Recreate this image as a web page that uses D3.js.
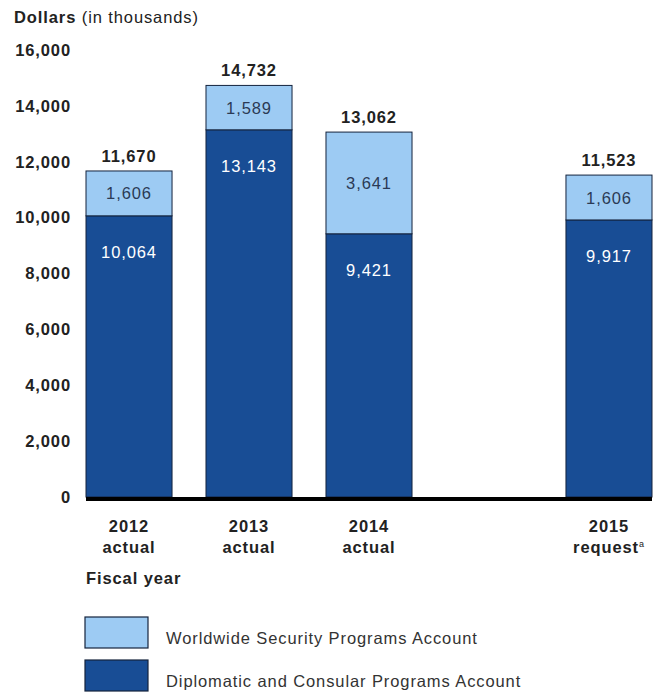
<!DOCTYPE html>
<html>
<head>
<meta charset="utf-8">
<script src="https://cdn.jsdelivr.net/npm/d3@7"></script>
<style>
  body { margin: 0; background: #fff; }
  svg { display: block; font-family: "Liberation Sans", Arial, sans-serif; }
  svg text { font-size: 16.5px; letter-spacing: 0.9px; }
</style>
</head>
<body>
<div id="app"></div>
<script>
// fiscal years, one empty slot between 2014 and 2015
const years = ['2012', '2013', '2014', 'gap', '2015']
const yearLine1 = ['2012', '2013', '2014', '', '2015']
const yearLine2 = ['actual', 'actual', 'actual', '', 'request']
const diplomatic = [10064, 13143, 9421, null, 9917]
const worldwide = [1606, 1589, 3641, null, 1606]
const totals = [11670, 14732, 13062, null, 11523]
const yTicks = [0, 2000, 4000, 6000, 8000, 10000, 12000, 14000, 16000]
const seriesNames = ['Worldwide Security Programs Account', 'Diplomatic and Consular Programs Account']

const width = 658, height = 693
const darkBlue = '#184d95'
const lightBlue = '#9dcbf3'
const edge = '#14233d'

const svg = d3.select('#app').append('svg')
    .attr('width', width)
    .attr('height', height)

const x = d3.scaleBand()
    .domain(years)
    .range([86, 652])
    .paddingInner(0.283)
    .paddingOuter(0)

const y = d3.scaleLinear()
    .domain([0, 16000])
    .range([497, 50])

const fmt = d3.format(',')

// title
const title = svg.append('text')
    .attr('x', 14).attr('y', 23)
    .style('fill', '#222')
title.append('tspan').style('font-weight', 'bold').text('Dollars')
title.append('tspan').text(' (in thousands)')

// y axis labels
const yAxis = d3.axisLeft(y).tickValues(yTicks).tickFormat(fmt).tickSize(0).tickPadding(0)
const yG = svg.append('g')
    .attr('transform', 'translate(71,0)')
    .call(yAxis)
yG.select('.domain').remove()
yG.selectAll('text')
    .style('font-size', '16.5px')
    .style('font-weight', 'bold')
    .style('font-family', '"Liberation Sans", Arial, sans-serif')
    .style('fill', '#222')

const rows = years.map((k, i) => ({
    key: k, dip: diplomatic[i], ww: worldwide[i], total: totals[i],
    l1: yearLine1[i], l2: yearLine2[i]
}))
const filled = rows.filter(d => d.dip != null)

const bars = svg.append('g').selectAll('g')
    .data(filled)
    .enter()
    .append('g')

bars.append('rect')
    .attr('x', d => x(d.key))
    .attr('width', x.bandwidth())
    .attr('y', d => y(d.dip))
    .attr('height', d => y(0) - y(d.dip))
    .style('fill', darkBlue)
    .style('stroke', edge)
    .style('stroke-width', 1)

bars.append('rect')
    .attr('x', d => x(d.key))
    .attr('width', x.bandwidth())
    .attr('y', d => y(d.dip + d.ww))
    .attr('height', d => y(d.dip) - y(d.dip + d.ww))
    .style('fill', lightBlue)
    .style('stroke', edge)
    .style('stroke-width', 1)

// segment values
bars.append('text')
    .attr('x', d => x(d.key) + x.bandwidth() / 2)
    .attr('y', d => y(d.dip) + 42)
    .attr('text-anchor', 'middle')
    .style('fill', '#fff')
    .text(d => fmt(d.dip))

bars.append('text')
    .attr('x', d => x(d.key) + x.bandwidth() / 2)
    .attr('y', d => (y(d.dip) + y(d.dip + d.ww)) / 2 + 6)
    .attr('text-anchor', 'middle')
    .style('fill', '#2b3a55')
    .text(d => fmt(d.ww))

// totals
bars.append('text')
    .attr('x', d => x(d.key) + x.bandwidth() / 2)
    .attr('y', d => y(d.total) - 9)
    .attr('text-anchor', 'middle')
    .style('font-weight', 'bold')
    .style('fill', '#222')
    .text(d => fmt(d.total))

// baseline
svg.append('line')
    .attr('x1', x.range()[0]).attr('x2', x.range()[1])
    .attr('y1', y(0) + 2).attr('y2', y(0) + 2)
    .style('stroke', '#000')
    .style('stroke-width', 4)

// x labels
const xl = svg.append('g').selectAll('text')
    .data(filled)
    .enter()
    .append('text')
    .attr('x', d => x(d.key) + x.bandwidth() / 2)
    .attr('y', y(0) + 35)
    .attr('text-anchor', 'middle')
    .style('font-weight', 'bold')
    .style('fill', '#222')
xl.append('tspan').text(d => d.l1)
xl.append('tspan')
    .attr('x', d => x(d.key) + x.bandwidth() / 2)
    .attr('dy', 21)
    .text(d => d.l2)
xl.filter(d => d.l2 === 'request').append('tspan')
    .attr('dy', -6)
    .style('font-size', '9px')
    .style('font-weight', 'normal')
    .text('a')

svg.append('text')
    .attr('x', 86).attr('y', 584)
    .style('font-weight', 'bold')
    .style('fill', '#222')
    .text('Fiscal year')

// legend
const legend = svg.append('g').selectAll('g')
    .data(seriesNames)
    .enter()
    .append('g')
    .attr('transform', (d, i) => 'translate(85,' + (617 + i * 43) + ')')

legend.append('rect')
    .attr('width', 63)
    .attr('height', 31)
    .style('fill', (d, i) => i === 0 ? lightBlue : darkBlue)
    .style('stroke', edge)
    .style('stroke-width', 1.2)

legend.append('text')
    .attr('x', 81)
    .attr('y', 27)
    .style('fill', '#333')
    .text(d => d)
</script>
</body>
</html>
